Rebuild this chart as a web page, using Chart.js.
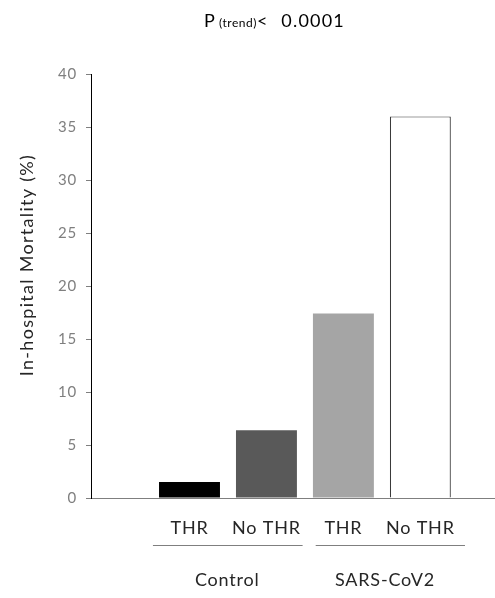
<!DOCTYPE html>
<html>
<head>
<meta charset="utf-8">
<script src="https://cdn.jsdelivr.net/npm/chart.js@4"></script>
<style>
  html, body { margin: 0; padding: 0; background: #fff; }
  #wrap { width: 495px; height: 598px; position: relative; }
</style>
</head>
<body>
<div id="wrap"><canvas id="c"></canvas></div>
<script>
// ---- data ----
const categories = ['THR', 'No THR', 'THR', 'No THR'];
const mortality = [1.5, 6.4, 17.4, 36.0];
const barColors = ['#000000', '#595959', '#a5a5a5', '#ffffff'];
const groups = ['Control', 'SARS-CoV2'];
const yTicks = [0, 5, 10, 15, 20, 25, 30, 35, 40];

const FONT = 'Lato, "Open Sans", sans-serif';

const spacingPlugin = {
  id: 'spacing',
  beforeDraw(chart) { chart.ctx.letterSpacing = '0.8px'; }
};

const textPlugin = {
  id: 'extraText',
  afterDraw(chart) {
    const ctx = chart.ctx;
    const x = chart.scales.x;
    ctx.save();
    // title
    ctx.fillStyle = '#000';
    ctx.textBaseline = 'alphabetic';
    ctx.textAlign = 'left';
    ctx.letterSpacing = '0.5px';
    ctx.font = '18px ' + FONT;
    ctx.fillText('P', 204, 27);
    ctx.font = '12px ' + FONT;
    ctx.fillText('(trend)', 219, 27);
    ctx.letterSpacing = '1.2px';
    ctx.font = '18px ' + FONT;
    ctx.fillText('<', 257, 27);
    ctx.textAlign = 'right';
    ctx.fillText('0.0001', 345, 27);
    ctx.textAlign = 'left';
    // stray panel label fragment
    ctx.letterSpacing = '0px';
    ctx.fillText(')', -4, 57);
    // y axis title
    ctx.save();
    ctx.translate(27, 265);
    ctx.rotate(-Math.PI / 2);
    ctx.textAlign = 'center';
    ctx.textBaseline = 'middle';
    ctx.letterSpacing = '1.3px';
    ctx.font = '18px ' + FONT;
    ctx.fillStyle = '#262626';
    ctx.fillText('In-hospital Mortality (%)', 0, 0);
    ctx.restore();
    // group lines and labels
    const spans = [[0.525, 2.47], [2.64, 4.58]];
    const centers = [1.49, 3.54];
    ctx.strokeStyle = '#7f7f7f';
    ctx.lineWidth = 1;
    ctx.letterSpacing = '0.8px';
    ctx.font = '18px ' + FONT;
    ctx.fillStyle = '#262626';
    ctx.textAlign = 'center';
    ctx.textBaseline = 'middle';
    groups.forEach((g, i) => {
      ctx.beginPath();
      ctx.moveTo(x.getPixelForValue(spans[i][0]), 545.5);
      ctx.lineTo(x.getPixelForValue(spans[i][1]), 545.5);
      ctx.stroke();
      ctx.fillText(g, x.getPixelForValue(centers[i]), 580);
    });
    ctx.restore();
  }
};

new Chart(document.getElementById('c'), {
  type: 'bar',
  data: {
    datasets: [{
      data: mortality.map((v, i) => ({ x: i + 1, y: v })),
      backgroundColor: barColors,
      borderColor: ['#000000', '#595959', '#a5a5a5', '#3a3a3a'],
      borderWidth: [0, 0, 0, 1.2],
      borderSkipped: 'bottom',
      categoryPercentage: 1,
      barPercentage: 0.792
    }]
  },
  options: {
    responsive: true,
    maintainAspectRatio: false,
    animation: false,
    layout: { padding: { top: 74, left: 0, right: 0, bottom: 0 } },
    plugins: { legend: { display: false }, tooltip: { enabled: false } },
    scales: {
      x: {
        type: 'linear',
        offset: false,
        min: -0.28,
        max: 4.97,
        afterBuildTicks(scale) {
          scale.ticks = categories.map((c, i) => ({ value: i + 1 }));
        },
        afterFit(scale) { scale.height = 100; },
        grid: { offset: false, drawOnChartArea: false, drawTicks: false },
        border: { color: '#7f7f7f', width: 1 },
        ticks: {
          autoSkip: false,
          maxRotation: 0,
          padding: 19,
          color: '#262626',
          font: { family: FONT, size: 18 },
          callback: (v) => categories[v - 1] || ''
        }
      },
      y: {
        min: 0,
        max: 40,
        afterBuildTicks(scale) {
          scale.ticks = yTicks.map(v => ({ value: v }));
        },
        afterFit(scale) { scale.width = 91; },
        grid: { drawOnChartArea: false, drawTicks: true, tickLength: 5, color: '#7f7f7f' },
        border: { color: '#000000', width: 1 },
        ticks: {
          padding: 9,
          color: '#7f7f7f',
          font: { family: FONT, size: 15 }
        }
      }
    }
  },
  plugins: [spacingPlugin, textPlugin]
});
</script>
</body>
</html>
